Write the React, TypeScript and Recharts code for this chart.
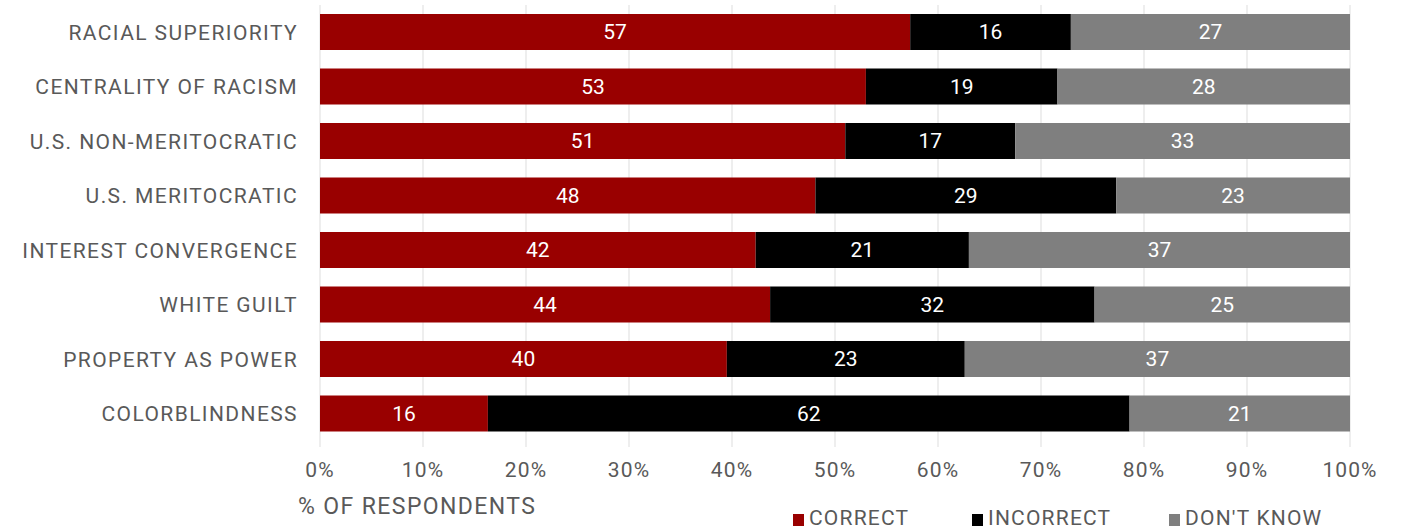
import { BarChart, Bar, XAxis, YAxis, CartesianGrid, Legend, LabelList } from "recharts";

const concepts = [
  "RACIAL SUPERIORITY",
  "CENTRALITY OF RACISM",
  "U.S. NON-MERITOCRATIC",
  "U.S. MERITOCRATIC",
  "INTEREST CONVERGENCE",
  "WHITE GUILT",
  "PROPERTY AS POWER",
  "COLORBLINDNESS",
];

// shares of respondents (labels show rounded values)
const correct = [57.3, 53.0, 51.0, 48.1, 42.3, 43.7, 39.5, 16.3];
const incorrect = [15.6, 18.6, 16.5, 29.2, 20.7, 31.5, 23.1, 62.3];
const dontKnow = [27.1, 28.4, 32.5, 22.7, 37.0, 24.8, 37.4, 21.4];

const seriesNames = ["CORRECT", "INCORRECT", "DON'T KNOW"];
const xTicks = [0, 10, 20, 30, 40, 50, 60, 70, 80, 90, 100];

const FONT = "Roboto, 'Liberation Sans', sans-serif";
const GREY_TEXT = "#595959";

const data = concepts.map((c, i) => ({
  concept: c,
  correct: correct[i],
  incorrect: incorrect[i],
  dontKnow: dontKnow[i],
}));

const legendLeft: Record<string, number> = { CORRECT: 793, INCORRECT: 972, "DON'T KNOW": 1169 };

const LegendBox = ({ payload }: any) => (
  <div style={{ position: "relative", width: 1402, height: 45, fontFamily: FONT, color: GREY_TEXT, lineHeight: 1 }}>
    <span style={{ position: "absolute", left: 298, top: 9, fontSize: 23, letterSpacing: 1.4 }}>% OF RESPONDENTS</span>
    {seriesNames.map((name) => {
      const p = (payload || []).find((q: any) => q.value === name);
      return (
        <span
          key={name}
          style={{ position: "absolute", left: legendLeft[name], top: 22, fontSize: 21, letterSpacing: 1.2, display: "flex", alignItems: "center" }}
        >
          <span style={{ display: "inline-block", width: 11, height: 12, background: p ? p.color : "#000", marginRight: 5, marginTop: 3 }} />
          {name}
        </span>
      );
    })}
  </div>
);

export default function App() {
  return (
    <div style={{ position: "fixed", top: 0, left: 0, width: 1402, height: 531, overflow: "hidden", background: "#fff" }}>
      <BarChart
        width={1402}
        height={531}
        data={data}
        layout="vertical"
        margin={{ top: 5, right: 52, bottom: 5, left: 0 }}
      >
        <CartesianGrid horizontal={false} stroke="#dddddd" />
        <XAxis
          type="number"
          domain={[0, 100]}
          ticks={xTicks}
          tickFormatter={(v) => `${v}%`}
          height={40}
          axisLine={false}
          tickLine={{ stroke: "#dddddd" }}
          tickSize={6}
          tickMargin={15}
          tick={{ fill: GREY_TEXT, fontSize: 21, fontFamily: FONT, letterSpacing: 1.1 }}
        />
        <YAxis
          type="category"
          dataKey="concept"
          width={320}
          axisLine={false}
          tickLine={false}
          tickSize={0}
          tickMargin={22}
          tick={{ fill: GREY_TEXT, fontSize: 21, fontFamily: FONT, letterSpacing: 1.4 }}
        />
        <Legend verticalAlign="bottom" content={<LegendBox />} wrapperStyle={{ left: 0, bottom: 0 }} />
        <Bar dataKey="correct" name="CORRECT" stackId="a" fill="#990000" barSize={36} isAnimationActive={false}>
          <LabelList dataKey="correct" position="center" fill="#ffffff" fontSize={21} fontFamily={FONT} formatter={(v: any) => Math.round(v)} />
        </Bar>
        <Bar dataKey="incorrect" name="INCORRECT" stackId="a" fill="#000000" barSize={36} isAnimationActive={false}>
          <LabelList dataKey="incorrect" position="center" fill="#ffffff" fontSize={21} fontFamily={FONT} formatter={(v: any) => Math.round(v)} />
        </Bar>
        <Bar dataKey="dontKnow" name="DON'T KNOW" stackId="a" fill="#7f7f7f" barSize={36} isAnimationActive={false}>
          <LabelList dataKey="dontKnow" position="center" fill="#ffffff" fontSize={21} fontFamily={FONT} formatter={(v: any) => Math.round(v)} />
        </Bar>
      </BarChart>
    </div>
  );
}
